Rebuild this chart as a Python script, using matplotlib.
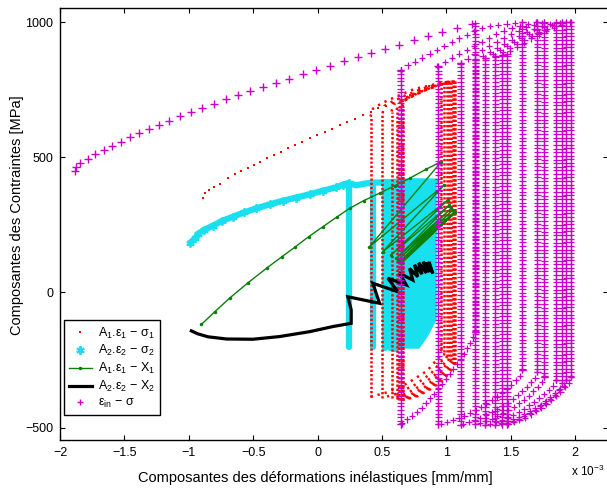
import numpy as np
import matplotlib
matplotlib.use('Agg')
import matplotlib.pyplot as plt
from matplotlib.patheffects import AbstractPathEffect
from matplotlib.path import Path
from matplotlib.transforms import IdentityTransform
from matplotlib.lines import Line2D

plt.rcParams['font.family'] = ['Liberation Sans', 'DejaVu Sans']
plt.rcParams['mathtext.fontset'] = 'custom'
plt.rcParams['mathtext.rm'] = 'Liberation Sans'
plt.rcParams['mathtext.it'] = 'Liberation Sans:italic'
plt.rcParams['mathtext.default'] = 'regular'

# ---------------- data (x in units of 1e-3 mm/mm, y in MPa) ----------------
# eps_in - sigma (magenta +)
mag_init_x = [-1.885, -1.877, -1.846, -1.782, -1.725, -1.660, -1.598, -1.528, -1.458, -1.386,
              -1.311, -1.234, -1.150, -1.068, -0.985, -0.898, -0.807, -0.714, -0.618, -0.522,
              -0.424, -0.324, -0.223, -0.116, -0.010, 0.095, 0.202, 0.310, 0.417, 0.525,
              0.634, 0.745, 0.856, 0.967, 1.081, 1.197]
mag_init_y = [449, 463, 479, 495, 511, 526, 542, 558, 574, 589, 605, 621, 635, 652, 666, 682,
              698, 714, 729, 745, 760, 776, 791, 807, 823, 838, 854, 870, 886, 902, 916, 933,
              947, 962, 978, 993]
mag_R_x = [1.226, 1.590, 1.707, 1.761, 1.854, 1.901, 1.932, 1.970]
mag_R_top = [997, 1000, 1000, 999, 999, 999, 1000, 1000]
mag_R_bot = [-145, -287, -294, -311, -324, -335, -324, -312]
mag_L_x = [0.644, 0.938, 1.110, 1.226, 1.303, 1.381, 1.435, 1.474]
mag_L_bot = [-488, -488, -490, -488, -490, -490, -488, -488]
mag_L_top = [823, 838, 848, 858, 866, 873, 878, 882]
mag_ten_x = [[0.644, 0.701, 0.766, 0.825, 0.887, 0.946, 1.003, 1.063, 1.123, 1.179, 1.231, 1.334, 1.450, 1.590],
             [0.931, 0.991, 1.050, 1.107, 1.166, 1.223, 1.282, 1.334, 1.386, 1.437, 1.502, 1.606, 1.707],
             [1.110, 1.170, 1.230, 1.300, 1.370, 1.440, 1.520, 1.620, 1.761],
             [1.226, 1.290, 1.350, 1.420, 1.500, 1.580, 1.680, 1.780, 1.854],
             [1.303, 1.370, 1.440, 1.510, 1.590, 1.670, 1.760, 1.901],
             [1.381, 1.450, 1.520, 1.590, 1.670, 1.750, 1.840, 1.932],
             [1.435, 1.500, 1.570, 1.640, 1.720, 1.800, 1.880, 1.970]]
mag_ten_y = [[823, 840, 856, 872, 887, 902, 916, 931, 944, 958, 971, 985, 993, 1000],
             [838, 853, 870, 885, 899, 913, 927, 940, 955, 967, 977, 989, 1000],
             [848, 866, 884, 902, 920, 940, 960, 980, 998],
             [858, 876, 893, 912, 933, 953, 975, 990, 998],
             [866, 884, 903, 922, 944, 963, 982, 999],
             [873, 891, 910, 930, 951, 970, 987, 999],
             [878, 895, 914, 934, 955, 973, 988, 1000]]
mag_cmp_x = [[1.226, 1.20, 1.10, 0.95, 0.80, 0.644],
             [1.590, 1.57, 1.45, 1.30, 1.12, 0.938],
             [1.707, 1.69, 1.58, 1.45, 1.28, 1.110],
             [1.761, 1.74, 1.65, 1.53, 1.38, 1.226],
             [1.854, 1.83, 1.73, 1.61, 1.46, 1.303],
             [1.901, 1.88, 1.79, 1.68, 1.53, 1.381],
             [1.932, 1.91, 1.82, 1.71, 1.58, 1.435],
             [1.970, 1.95, 1.86, 1.75, 1.62, 1.474]]
mag_cmp_y = [[-145, -175, -255, -350, -430, -488],
             [-287, -310, -365, -415, -460, -488],
             [-294, -318, -370, -418, -462, -490],
             [-311, -333, -378, -422, -462, -488],
             [-324, -346, -388, -430, -466, -490],
             [-335, -355, -395, -433, -467, -490],
             [-324, -345, -388, -428, -463, -488],
             [-312, -334, -380, -424, -461, -488]]

# A1.eps1 - sigma1 (red .)
red_init_x = [-0.892, -0.877, -0.846, -0.807, -0.760, -0.698, -0.644, -0.592, -0.541, -0.497,
              -0.445, -0.390, -0.341, -0.287, -0.230, -0.173, -0.119, -0.062, -0.002, 0.057,
              0.114, 0.171, 0.230, 0.287, 0.351, 0.417, 0.468, 0.528, 0.584, 0.636, 0.714,
              0.791, 0.869, 0.946]
red_init_y = [349, 368, 379, 390, 401, 423, 438, 449, 462, 471, 484, 496, 508, 521, 533, 545,
              558, 570, 581, 594, 606, 618, 631, 643, 656, 669, 681, 690, 700, 714, 730, 749,
              764, 776]
red_R_x = [0.962, 0.985, 1.005, 1.020, 1.035, 1.048, 1.058, 1.068]
red_R_top = [776, 778, 779, 780, 780, 781, 781, 781]
red_R_bot = [-210, -225, -235, -245, -250, -255, -258, -260]
red_L_x = [0.411, 0.504, 0.574, 0.613, 0.636, 0.652, 0.659, 0.667]
red_L_top = [650, 663, 669, 675, 681, 685, 688, 690]
red_L_bot = [-386, -390, -392, -395, -396, -397, -398, -398]
red_ten_x = [[0.411, 0.43, 0.50, 0.60, 0.75, 0.985],
             [0.504, 0.52, 0.58, 0.68, 0.82, 1.005],
             [0.574, 0.59, 0.65, 0.74, 0.87, 1.020],
             [0.613, 0.63, 0.69, 0.78, 0.90, 1.035],
             [0.636, 0.65, 0.71, 0.80, 0.92, 1.048],
             [0.652, 0.67, 0.73, 0.82, 0.94, 1.058],
             [0.659, 0.68, 0.74, 0.83, 0.95, 1.068]]
red_ten_y = [[650, 680, 700, 722, 752, 778],
             [663, 690, 706, 728, 755, 779],
             [669, 695, 712, 733, 758, 780],
             [675, 700, 717, 738, 761, 780],
             [681, 705, 721, 742, 764, 781],
             [685, 708, 724, 745, 766, 781],
             [688, 711, 727, 747, 767, 781]]
red_cmp_x = [[0.962, 0.95, 0.85, 0.70, 0.55, 0.411],
             [0.985, 0.97, 0.88, 0.76, 0.63, 0.504],
             [1.005, 0.99, 0.91, 0.80, 0.69, 0.574],
             [1.020, 1.00, 0.93, 0.83, 0.72, 0.613],
             [1.035, 1.02, 0.94, 0.85, 0.74, 0.636],
             [1.048, 1.03, 0.96, 0.86, 0.76, 0.652],
             [1.058, 1.04, 0.97, 0.87, 0.77, 0.659],
             [1.068, 1.05, 0.98, 0.88, 0.78, 0.667]]
red_cmp_y = [[-210, -235, -290, -335, -368, -386],
             [-225, -250, -300, -340, -372, -390],
             [-235, -258, -305, -345, -374, -392],
             [-245, -266, -310, -350, -378, -395],
             [-250, -270, -314, -352, -380, -396],
             [-255, -275, -317, -354, -381, -397],
             [-258, -278, -320, -356, -382, -398],
             [-260, -280, -322, -357, -383, -398]]

# A2.eps2 - sigma2 (cyan *)
cyan_init_x = [-0.988, -0.95, -0.929, -0.88, -0.812, -0.74, -0.657, -0.57, -0.476, -0.37,
               -0.269, -0.165, -0.062, 0.04, 0.145, 0.196, 0.243]
cyan_init_y = [184, 200, 216, 232, 247, 265, 280, 296, 311, 326, 339, 351, 363, 376, 389, 398, 404]
cyan_col_x = [0.243, 0.427, 0.52, 0.565, 0.60]
cyan_col_top = [404, 406, 407, 408, 409]
cyan_col_bot = [-200, -203, -205, -207, -208]
cyan_top_x = [0.243, 0.30, 0.36, 0.43, 0.52, 0.60, 0.75, 0.92]
cyan_top_y = [404, 396, 402, 406, 407, 409, 411, 410]
cyan_blk_x = [0.61, 0.92, 0.925, 0.925, 0.86, 0.79, 0.61]
cyan_blk_y = [412, 410, 395, -100, -160, -208, -208]

# A1.eps1 - X1 (green line with .)
green_x = [-0.902, -0.800, -0.683, -0.540, -0.390, -0.280, -0.178, -0.070, 0.041, 0.150,
           0.248, 0.360, 0.481, 0.600, 0.714, 0.840, 0.962,
           0.403, 0.985, 0.507, 1.011, 0.572, 1.024, 0.611, 1.037, 0.623, 1.050, 0.636,
           1.063, 0.645, 1.070, 0.652]
green_y = [-118, -72, -21, 36, 92, 131, 167, 206, 243, 279,
           311, 340, 367, 395, 422, 455, 484,
           169, 398, 151, 342, 139, 324, 126, 311, 120, 305, 114,
           299, 110, 296, 108]

# A2.eps2 - X2 (black thick)
black_x = [-0.980, -0.930, -0.850, -0.708, -0.502, -0.295, -0.062, 0.119, 0.261, 0.261, 0.235, 0.287,
           0.481, 0.429, 0.623, 0.545, 0.688, 0.636, 0.739, 0.714, 0.778, 0.752, 0.811,
           0.785, 0.845, 0.820, 0.870, 0.850, 0.895, 0.869]
black_y = [-142, -153, -164, -172, -173, -163, -145, -126, -114, -65, -16, -21,
           -40, 34, 3, 53, 28, 71, 46, 89, 58, 102, 68,
           110, 72, 114, 76, 112, 70, 108]

xticks = [-2, -1.5, -1, -0.5, 0, 0.5, 1, 1.5, 2]
yticks = [-500, 0, 500, 1000]

# ---------------- styles ----------------
RED = '#FF0000'
CYAN = '#18E0EE'
GREEN = '#0A800A'
MAG = '#C800C8'


class Stamp(AbstractPathEffect):
    """Draw '+' glyphs along the rendered path every `spacing` points."""

    def __init__(self, spacing, size, color, lw=1.0):
        super().__init__()
        self.spacing = spacing
        self.size = size
        self.color = color
        self.lw = lw

    def draw_path(self, renderer, gc, tpath, affine, rgbFace=None):
        v = affine.transform(tpath.vertices)
        d = np.hypot(*np.diff(v, axis=0).T)
        v = v[np.concatenate([[True], d > 1e-9])]
        if len(v) > 1:
            cum = np.concatenate([[0.0], np.cumsum(np.hypot(*np.diff(v, axis=0).T))])
            step = renderer.points_to_pixels(self.spacing)
            s = np.arange(0.0, cum[-1] + 1e-9, step)
            pos = np.column_stack([np.interp(s, cum, v[:, 0]), np.interp(s, cum, v[:, 1])])
            pos = np.vstack([pos, v[-1]])
        else:
            pos = v
        h = renderer.points_to_pixels(self.size) / 2.0
        verts, codes = [], []
        for x, y in pos:
            verts += [(x - h, y), (x + h, y), (x, y - h), (x, y + h)]
            codes += [Path.MOVETO, Path.LINETO, Path.MOVETO, Path.LINETO]
        gc0 = renderer.new_gc()
        gc0.copy_properties(gc)
        gc0.set_foreground(self.color)
        gc0.set_linewidth(self.lw)
        gc0.set_dashes(0, None)
        gc0.set_capstyle('butt')
        renderer.draw_path(gc0, Path(verts, codes), IdentityTransform())
        gc0.restore()


fig = plt.figure(figsize=(6.07, 4.91), dpi=100)
ax = fig.add_axes([60 / 607, 51 / 491, 548 / 607, 432 / 491])
ax.set_xlim(-2.0, 2.255)
ax.set_ylim(-545.5, 1051.8)

# cyan
ax.fill(cyan_blk_x, cyan_blk_y, color=CYAN, lw=0, zorder=1)
ax.plot(cyan_init_x, cyan_init_y, color=CYAN, lw=4.5, solid_capstyle='round', zorder=1)
ax.plot(cyan_init_x, cyan_init_y, ls='none', marker=(6, 2, 0), ms=6, mew=1.3, color=CYAN, zorder=1)
ax.plot(cyan_top_x, cyan_top_y, color=CYAN, lw=4.5, solid_capstyle='round', zorder=1)
for x, t, b in zip(cyan_col_x, cyan_col_top, cyan_col_bot):
    ax.plot([x, x], [t, b], color=CYAN, lw=4.5, solid_capstyle='round', zorder=1)

# red
ax.plot(red_init_x, red_init_y, ls='none', marker='s', ms=1.8, mew=0, color=RED, zorder=2)
dense_red = dict(color=RED, lw=1.8, ls=(0, (0.9, 0.8)), dash_capstyle='butt', zorder=2)
sparse_red = dict(color=RED, lw=1.8, ls=(0, (0.9, 2.0)), dash_capstyle='butt', zorder=2)
for x, t, b in zip(red_R_x, red_R_top, red_R_bot):
    ax.plot([x, x], [t, b], **dense_red)
for x, t, b in zip(red_L_x, red_L_top, red_L_bot):
    ax.plot([x, x], [b, t], **dense_red)
for xs, ys in zip(red_ten_x, red_ten_y):
    ax.plot(xs, ys, **sparse_red)
for xs, ys in zip(red_cmp_x, red_cmp_y):
    ax.plot(xs, ys, **sparse_red)

# green
ax.plot(green_x, green_y, color=GREEN, lw=1.0, marker='.', ms=3, zorder=3)

# black
ax.plot(black_x, black_y, color='k', lw=2.3, solid_joinstyle='miter', zorder=4)

# magenta
ax.plot(mag_init_x, mag_init_y, ls='none', marker='+', ms=5.2, mew=1.0, color=MAG, zorder=5)


def stamped(xs, ys, spacing):
    ax.plot(xs, ys, color=MAG, zorder=5,
            path_effects=[Stamp(spacing, 4.6, MAG, 0.9)])


for x, t, b in zip(mag_R_x, mag_R_top, mag_R_bot):
    stamped([x, x], [t, b], 2.6)
for x, t, b in zip(mag_L_x, mag_L_top, mag_L_bot):
    stamped([x, x], [b, t], 2.6)
for xs, ys in zip(mag_ten_x, mag_ten_y):
    stamped(xs, ys, 6.0)
for xs, ys in zip(mag_cmp_x, mag_cmp_y):
    stamped(xs, ys, 4.5)

# axes cosmetics
ax.set_xticks(xticks)
ax.set_xticklabels([('%g' % t).replace('-', '\u2212') for t in xticks])
ax.set_yticks(yticks)
ax.set_yticklabels([('%g' % t).replace('-', '\u2212') for t in yticks])
ax.tick_params(direction='in', length=3.6, width=0.8, top=True, right=True,
               labelsize=9, pad=5)
for s in ax.spines.values():
    s.set_linewidth(1.0)

ax.set_xlabel('Composantes des déformations inélastiques [mm/mm]', fontsize=10.5)
ax.xaxis.set_label_coords(0.465, -0.072)
ax.set_ylabel('Composantes des Contraintes [MPa]', fontsize=10.5)
ax.yaxis.set_label_coords(-0.066, 0.52)
fig.text(571 / 607, 1 - 476 / 491, 'x 10$^{-3}$', fontsize=8.5, ha='left', va='baseline')

handles = [
    Line2D([], [], color=RED, marker='s', ms=2, mew=0, ls='none'),
    Line2D([], [], color=CYAN, marker=(6, 2, 0), ms=6, mew=1.5, ls='none'),
    Line2D([], [], color=GREEN, marker='.', ms=3, lw=1.0),
    Line2D([], [], color='k', lw=2.3),
    Line2D([], [], color=MAG, marker='+', ms=5, mew=1.0, ls='none'),
]
labels = ['A$_1$.ε$_1$ − σ$_1$', 'A$_2$.ε$_2$ − σ$_2$', 'A$_1$.ε$_1$ − X$_1$',
          'A$_2$.ε$_2$ − X$_2$', 'ε$_{in}$ − σ']
leg = ax.legend(handles, labels, loc='lower left', bbox_to_anchor=(0.0073, 0.0579),
                borderaxespad=0, fontsize=9, handlelength=1.8, handletextpad=0.5,
                labelspacing=0.22, borderpad=0.4, fancybox=False, framealpha=1,
                edgecolor='k')
leg.get_frame().set_linewidth(1.0)
leg.set_zorder(10)

fig.savefig('out.png', dpi=100)
